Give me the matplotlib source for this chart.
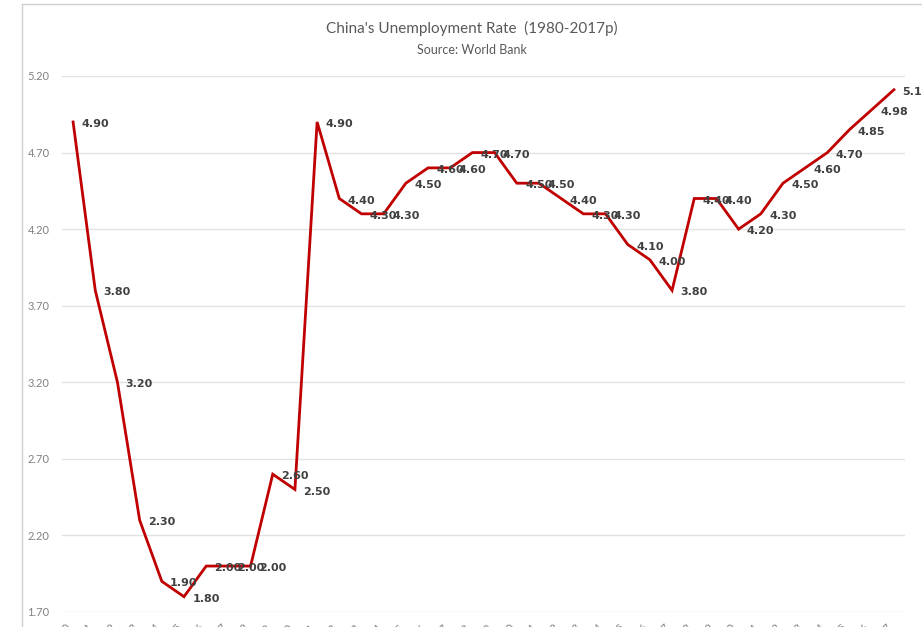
import matplotlib
matplotlib.use("Agg")
import matplotlib.pyplot as plt
from matplotlib.lines import Line2D

years = list(range(1980, 2018))
rates = [4.90, 3.80, 3.20, 2.30, 1.90, 1.80, 2.00, 2.00, 2.00, 2.60,
         2.50, 4.90, 4.40, 4.30, 4.30, 4.50, 4.60, 4.60, 4.70, 4.70,
         4.50, 4.50, 4.40, 4.30, 4.30, 4.10, 4.00, 3.80, 4.40, 4.40,
         4.20, 4.30, 4.50, 4.60, 4.70, 4.85, 4.98, 5.11]
yticks = [1.70, 2.20, 2.70, 3.20, 3.70, 4.20, 4.70, 5.20]

plt.rcParams['font.family'] = ['Lato', 'DejaVu Sans']

fig = plt.figure(figsize=(9.22, 6.27), dpi=100)
ax = fig.add_axes([62 / 922, 15 / 627, 843 / 922, 536 / 627])

x = list(range(len(years)))
ax.plot(x, rates, color="#C00000", linewidth=2.0, solid_joinstyle="miter")

# data labels to the right of each point
for xi, v in zip(x, rates):
    ax.annotate("%.2f" % v, (xi, v), xytext=(6, -1.5), textcoords="offset points",
                ha="left", va="center", fontsize=8, fontweight="bold",
                color="#404040", family=["DejaVu Sans"])

ax.set_xlim(-0.5, len(years) - 0.5)
ax.set_ylim(1.70, 5.20)
ax.set_yticks(yticks)
ax.set_yticklabels(["%.2f" % t for t in yticks], color="#808080", fontsize=8)
ax.set_xticks(x)
ax.set_xticklabels([str(y) for y in years], rotation=45, ha="right",
                   color="#808080", fontsize=8)
ax.tick_params(length=0, pad=9)
ax.tick_params(axis="x", pad=7)
ax.grid(True, axis="y", color="#e2e2e2", linewidth=1)
ax.set_axisbelow(True)
for s in ax.spines.values():
    s.set_visible(False)

fig.text(472 / 922, 1 - 28 / 627, "China's Unemployment Rate  (1980-2017p)",
         ha="center", va="center", fontsize=11, color="#595959")
fig.text(472 / 922, 1 - 50 / 627, "Source: World Bank",
         ha="center", va="center", fontsize=9, color="#595959")

# chart area border (cropped)
fig.add_artist(Line2D([22 / 922, 22 / 922], [0, 1 - 4 / 627], color="#d0d0d0", linewidth=1))
fig.add_artist(Line2D([22 / 922, 1], [1 - 4 / 627, 1 - 4 / 627], color="#d0d0d0", linewidth=1))

fig.savefig("out.png", dpi=100)
